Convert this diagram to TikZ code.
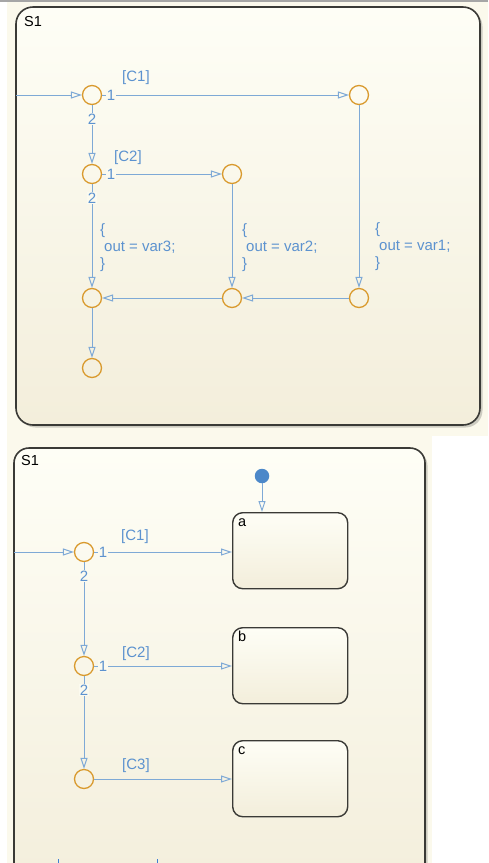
\documentclass[tikz,border=0pt]{standalone}
\usepackage{fontspec}
\setmainfont{Liberation Sans}
\usetikzlibrary{arrows.meta,positioning}
\definecolor{slBlue}{HTML}{7EA9D6}
\definecolor{slText}{HTML}{5C92CF}
\definecolor{slOrange}{HTML}{D99A2E}
\definecolor{slBorder}{HTML}{3A3A36}
\definecolor{slPaper}{HTML}{FBF9EC}
\definecolor{slTop}{HTML}{FEFEF6}
\definecolor{slBot}{HTML}{F3EEDB}
\definecolor{slDot}{HTML}{4C88C9}
\definecolor{slTick}{HTML}{3D7FD4}

\begin{document}
\begin{tikzpicture}[x=1pt, y=-1pt,
  junc/.style={circle, draw=slOrange, line width=1.3pt, minimum size=19pt, inner sep=0pt},
  trans/.style={-{Triangle[open, length=11pt, width=7pt]}, draw=slBlue, line width=1pt},
  lbl/.style={font=\fontsize{15}{17}\selectfont, text=slText, inner sep=1pt},
  prio/.style={lbl, fill=slTop!75!slBot, inner sep=0.5pt},
  act/.style={lbl, align=left, anchor=west, font=\fontsize{15}{17}\selectfont},
  chart/.style={draw=slBorder, line width=1.6pt, rounded corners=17pt, top color=slTop, bottom color=slBot},
  substate/.style={draw=slBorder, line width=1.4pt, rounded corners=10pt, top color=slTop, bottom color=slBot, minimum width=115pt, minimum height=76pt, inner sep=0pt},
  statename/.style={font=\fontsize{14.5}{16}\selectfont, anchor=north west, inner sep=0pt, text height=10.5pt},
  shadow/.style={fill=black, opacity=0.18}
]
\useasboundingbox (0,0) rectangle (488,863);

% Screens
\fill[white] (0,0) rectangle (488,863);
\fill[slPaper] (7,0) rectangle (488,436);
\draw[gray!70, line width=1.5pt] (0,0.75) -- (488,0.75);
\fill[slPaper] (7,436) rectangle (432,863);

% Top chart
\fill[shadow, rounded corners=17pt] (18.5,9.5) rectangle (482.5,427.5);
\path[chart] (16,7) rectangle (480,425);
\node[statename] (s1top) at (24,15.5) {S1};

% Junctions
\node[junc] (j1) at (92,95) {};
\node[junc] (ja) at (359,95) {};
\node[junc] (j2) at (92,174) {};
\node[junc] (jb) at (232,174) {};
\node[junc] (j3) at (92,298) {};
\node[junc] (jc) at (232,298) {};
\node[junc] (jd) at (359,298) {};
\node[junc] (je) at (92,368) {};
\coordinate (in1) at (16,95);

% Transitions
\draw[trans] (in1) -- (j1);
\draw[trans] (j1) -- (ja);
\draw[trans] (j1) -- (j2);
\draw[trans] (j2) -- (jb);
\draw[trans] (j2) -- (j3);
\draw[trans] (jb) -- (jc);
\draw[trans] (ja) -- (jd);
\draw[trans] (jd) -- (jc);
\draw[trans] (jc) -- (j3);
\draw[trans] (j3) -- (je);

% Labels
\node[lbl] (c1) at (136,78) {[C1]};
\node[lbl] (c2) at (128,158) {[C2]};
\node[prio, right=4pt of j1] (p11) {1};
\node[prio, below=8pt of j1] (p12) {2};
\node[prio, right=4pt of j2] (p21) {1};
\node[prio, below=8pt of j2] (p22) {2};
\node[act] (v3) at (99,248) {\{\\\hspace*{4pt}out = var3;\\\}};
\node[act] (v2) at (241,248) {\{\\\hspace*{4pt}out = var2;\\\}};
\node[act] (v1) at (374,247) {\{\\\hspace*{4pt}out = var1;\\\}};

% Bottom chart
\begin{scope}
  \clip (7,436) rectangle (432,863);
  \fill[shadow, rounded corners=15pt] (16.5,450.5) rectangle (427.5,900);
  \path[chart, rounded corners=15pt] (14,448) rectangle (425,900);
\end{scope}
\node[statename] (s1bot) at (21,454.5) {S1};

% States
\node[substate, anchor=north west] (sa) at (232,512) {};
\node[substate, anchor=north west] (sb) at (232,627) {};
\node[substate, anchor=north west] (sc) at (232,740) {};
\node[statename, below right=4pt and 6pt of sa.north west] (na) {a};
\node[statename, below right=4pt and 6pt of sb.north west] (nb) {b};
\node[statename, below right=4pt and 6pt of sc.north west] (nc) {c};

% Default transition
\node[circle, fill=slDot, minimum size=14.5pt, inner sep=0pt] (init) at (262,476) {};
\draw[trans] (init) -- (init |- sa.north);

% Junctions
\node[junc] (k1) at (84,552) {};
\node[junc] (k2) at (84,666) {};
\node[junc] (k3) at (84,779) {};
\coordinate (in2) at (14,552);

% Transitions
\draw[trans] (in2) -- (k1);
\draw[trans] (k1) -- (k1 -| sa.west);
\draw[trans] (k1) -- (k2);
\draw[trans] (k2) -- (k2 -| sb.west);
\draw[trans] (k2) -- (k3);
\draw[trans] (k3) -- (k3 -| sc.west);

% Labels
\node[lbl] (g1) at (135,537) {[C1]};
\node[lbl] (g2) at (136,654) {[C2]};
\node[lbl] (g3) at (136,766) {[C3]};
\node[prio, right=4pt of k1] (q11) {1};
\node[prio, below=8pt of k1] (q12) {2};
\node[prio, right=4pt of k2] (q21) {1};
\node[prio, below=8pt of k2] (q22) {2};

% Cut-off marks
\draw[slTick, line width=1pt] (58,859) -- (58,863);
\draw[slTick, line width=1pt] (157,859) -- (157,863);
\end{tikzpicture}
\end{document}
